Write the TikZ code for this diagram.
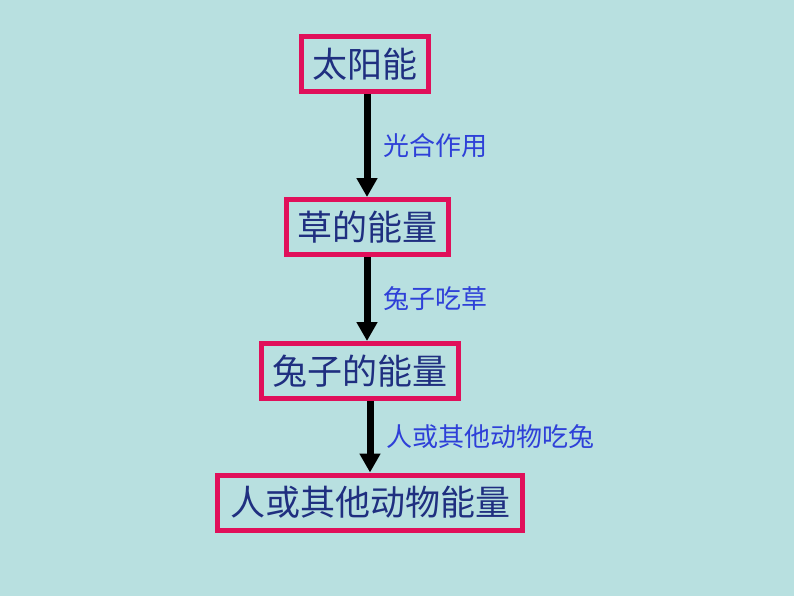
\documentclass[tikz,border=0pt]{standalone}
\usepackage{fontspec}
\newfontfamily\cjk{Noto Sans CJK SC}
\usetikzlibrary{arrows.meta, positioning}
\definecolor{bgteal}{HTML}{B8E0E0}
\definecolor{boxrim}{HTML}{E0105A}
\definecolor{boxtext}{HTML}{1F2F80}
\definecolor{labelblue}{HTML}{2E40D8}
\tikzset{
  energy/.style={draw=boxrim, line width=5pt, inner xsep=11pt, minimum height=55pt,
    text=boxtext, font=\cjk\fontsize{35}{35}\selectfont},
  flow/.style={line width=7pt, -{Triangle[length=19pt, width=20pt]}},
  how/.style={midway, right=13pt, inner sep=0pt, text=labelblue,
    font=\cjk\fontsize{26}{26}\selectfont}
}

\begin{document}
\begin{tikzpicture}[x=1pt, y=-1pt]
  \fill[bgteal] (0,0) rectangle (794,596);
  \useasboundingbox (0,0) rectangle (794,596);
  \node[energy] (sun) at (365,64) {太阳能};
  \node[energy] (grass) at (367,227) {草的能量};
  \node[energy] (rabbit) at (360,371) {兔子的能量};
  \node[energy, inner xsep=12.5pt] (human) at (370,502.5) {人或其他动物能量};
  \draw[flow] (sun.south -| grass) -- (grass.north) node[how] (photo) {光合作用};
  \draw[flow] (grass.south) -- (rabbit.north -| grass) node[how] (eatgrass) {兔子吃草};
  \draw[flow] (rabbit.south -| human) -- (human.north) node[how] (eatrabbit) {人或其他动物吃兔};
\end{tikzpicture}
\end{document}
